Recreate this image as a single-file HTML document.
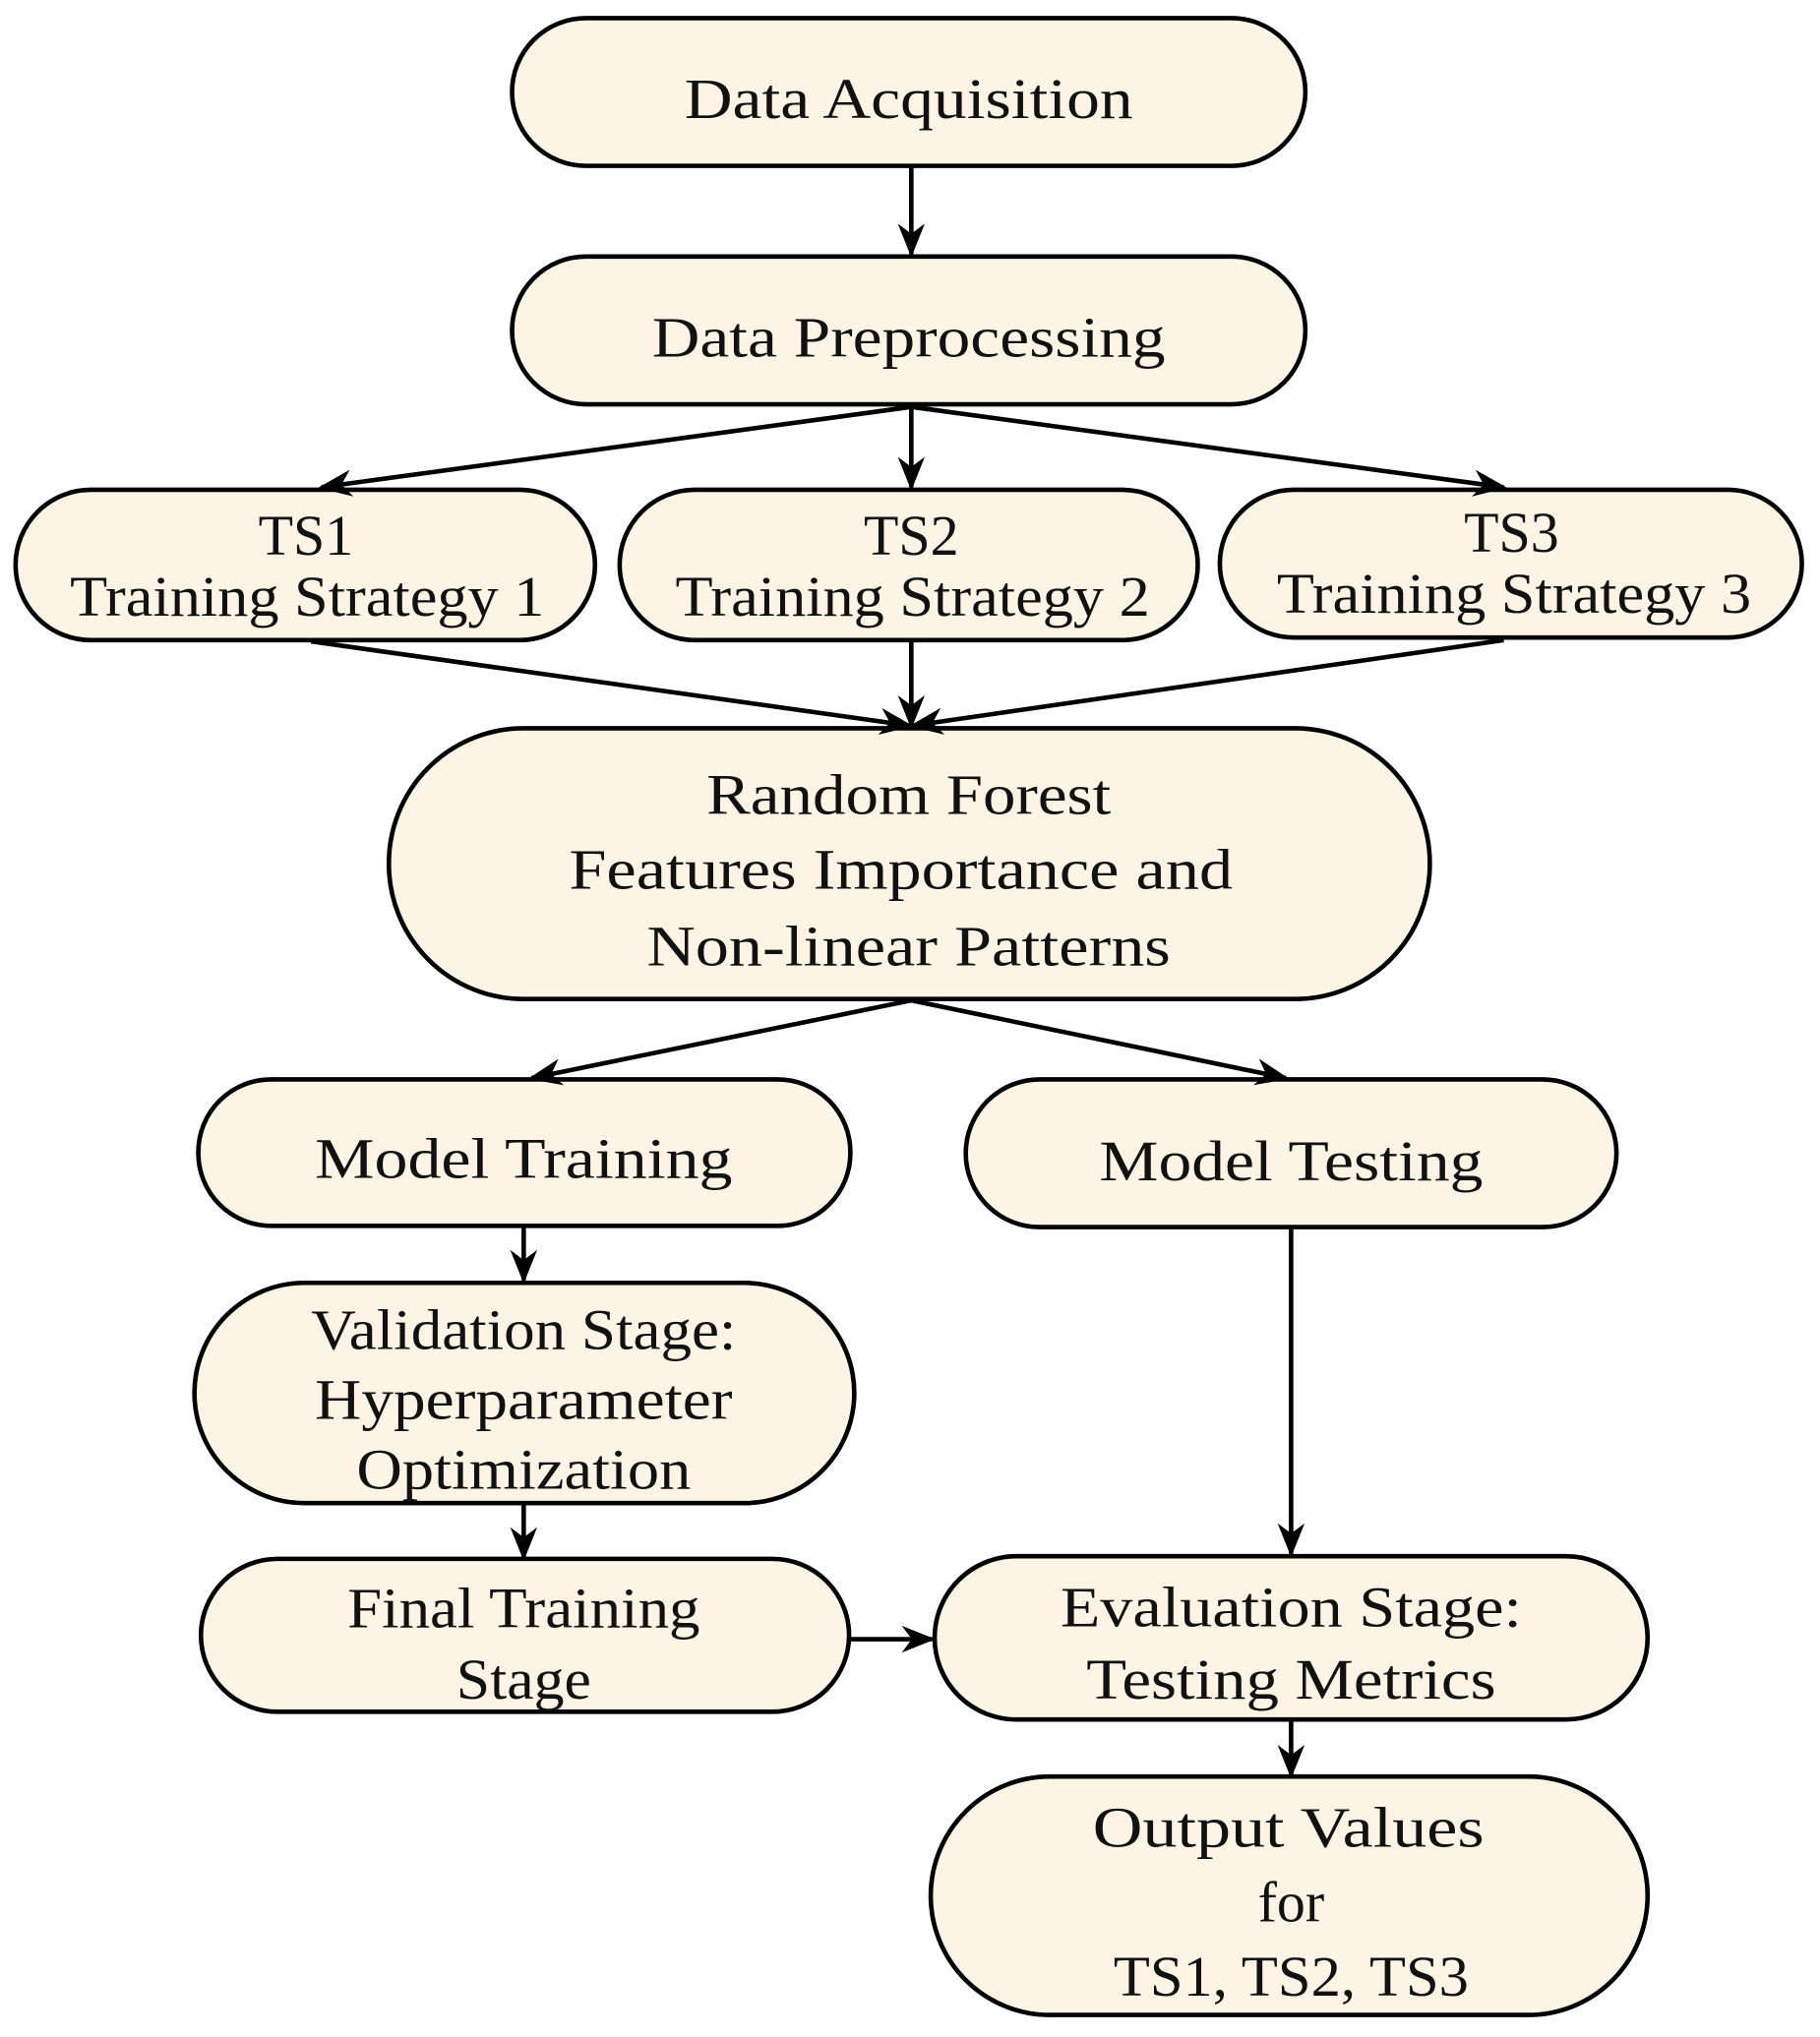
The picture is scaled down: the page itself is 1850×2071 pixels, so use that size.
<!DOCTYPE html>
<html><head><meta charset="utf-8"><style>
html,body{margin:0;padding:0;background:#fff;}
svg{display:block;}
text{font-family:"Liberation Serif",serif;font-size:44px;fill:#111;text-anchor:middle;}
</style></head><body>
<svg width="1850" height="2071" viewBox="0 0 1404 1572" preserveAspectRatio="none" xmlns="http://www.w3.org/2000/svg">
<defs>
<marker id="b" viewBox="0 0 10 10" refX="9" refY="5" markerWidth="26" markerHeight="26" orient="auto" markerUnits="userSpaceOnUse"><path d="M0,1 L10,5 L0,9 L3,5 z" fill="#000"/></marker></defs>
<g fill="#fdf4e6" stroke="#000" stroke-width="3.5">
<rect x="395" y="14" width="612" height="114" rx="57"/>
<rect x="395" y="198" width="612" height="114" rx="57"/>
<rect x="12" y="378" width="447" height="116" rx="58"/>
<rect x="478" y="378" width="446" height="116" rx="58"/>
<rect x="941" y="378" width="449" height="114" rx="57"/>
<rect x="300" y="562" width="803" height="209" rx="104"/>
<rect x="153" y="833" width="503" height="113" rx="56"/>
<rect x="745" y="833" width="502" height="114" rx="57"/>
<rect x="150" y="990" width="509" height="170" rx="85"/>
<rect x="155" y="1203" width="500" height="118" rx="59"/>
<rect x="721" y="1201" width="550" height="126" rx="63"/>
<rect x="718" y="1371" width="553" height="184" rx="92"/>
</g>
<g stroke="#000" stroke-width="3.5" fill="none" marker-end="url(#b)">
<line x1="703" y1="129" x2="703" y2="196"/>
<line x1="703" y1="314" x2="248" y2="376"/>
<line x1="703" y1="314" x2="703" y2="376"/>
<line x1="703" y1="314" x2="1160" y2="376"/>
<line x1="240" y1="495" x2="702" y2="560"/>
<line x1="703" y1="495" x2="703" y2="560"/>
<line x1="1160" y1="494" x2="704" y2="560"/>
<line x1="703" y1="772" x2="410" y2="832"/>
<line x1="703" y1="772" x2="992" y2="832"/>
<line x1="404" y1="947" x2="404" y2="988"/>
<line x1="404" y1="1161" x2="404" y2="1202"/>
<line x1="996" y1="948" x2="996" y2="1199"/>
<line x1="656" y1="1265" x2="719" y2="1265"/>
<line x1="996" y1="1328" x2="996" y2="1370"/>
</g>
<text x="701" y="91" textLength="346" lengthAdjust="spacingAndGlyphs">Data Acquisition</text>
<text x="701" y="275" textLength="396" lengthAdjust="spacingAndGlyphs">Data Preprocessing</text>
<text x="236" y="428">TS1</text>
<text x="237" y="475" textLength="366" lengthAdjust="spacingAndGlyphs">Training Strategy 1</text>
<text x="703" y="428">TS2</text>
<text x="704" y="475" textLength="366" lengthAdjust="spacingAndGlyphs">Training Strategy 2</text>
<text x="1166" y="426">TS3</text>
<text x="1168" y="473" textLength="366" lengthAdjust="spacingAndGlyphs">Training Strategy 3</text>
<text x="701" y="628" textLength="312" lengthAdjust="spacingAndGlyphs">Random Forest</text>
<text x="695" y="686" textLength="512" lengthAdjust="spacingAndGlyphs">Features Importance and</text>
<text x="701" y="745" textLength="404" lengthAdjust="spacingAndGlyphs">Non-linear Patterns</text>
<text x="404" y="909" textLength="322" lengthAdjust="spacingAndGlyphs">Model Training</text>
<text x="996" y="911" textLength="296" lengthAdjust="spacingAndGlyphs">Model Testing</text>
<text x="404" y="1041" textLength="328" lengthAdjust="spacingAndGlyphs">Validation Stage:</text>
<text x="404" y="1095" textLength="322" lengthAdjust="spacingAndGlyphs">Hyperparameter</text>
<text x="404" y="1149" textLength="258" lengthAdjust="spacingAndGlyphs">Optimization</text>
<text x="404" y="1256" textLength="272" lengthAdjust="spacingAndGlyphs">Final Training</text>
<text x="404" y="1311" textLength="104" lengthAdjust="spacingAndGlyphs">Stage</text>
<text x="996" y="1255" textLength="356" lengthAdjust="spacingAndGlyphs">Evaluation Stage:</text>
<text x="996" y="1311" textLength="316" lengthAdjust="spacingAndGlyphs">Testing Metrics</text>
<text x="994" y="1425" textLength="302" lengthAdjust="spacingAndGlyphs">Output Values</text>
<text x="996" y="1483">for</text>
<text x="996" y="1540" textLength="274" lengthAdjust="spacingAndGlyphs">TS1, TS2, TS3</text>
</svg>
</body></html>
